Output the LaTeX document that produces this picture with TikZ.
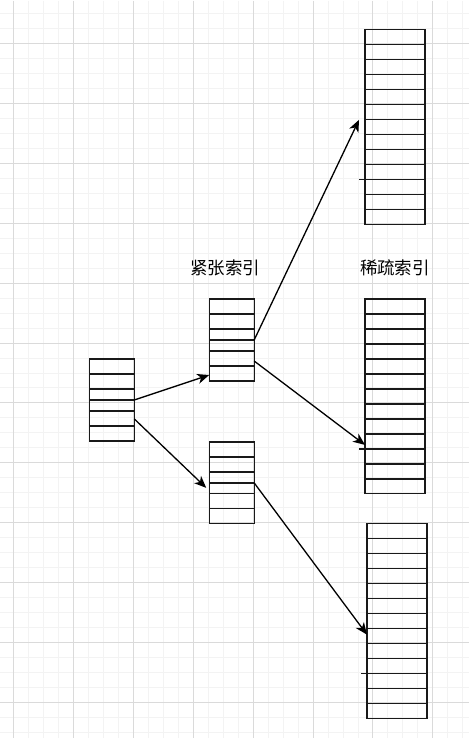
\documentclass[tikz,border=0pt]{standalone}
\usepackage{fontspec}
\newfontfamily\cjk{Noto Sans CJK SC}
\usetikzlibrary{arrows.meta}
\definecolor{gridminor}{RGB}{243,243,243}
\definecolor{gridmajor}{RGB}{218,218,218}

\begin{document}
\begin{tikzpicture}[x=1pt,y=-1pt,
    box/.style={draw=black!90,line width=1.3pt,outer sep=0pt,inner sep=0pt,anchor=north west},
    dense/.style={box,minimum width=45pt,minimum height=82pt},
    sparse/.style={box,minimum width=60pt,minimum height=195pt},
    row/.style={draw=black!90,line width=1.3pt},
    link/.style={line width=1.3pt,-{Stealth[length=12pt,width=10pt,inset=3.5pt]}},
    idxtext/.style={font=\cjk\fontsize{17.5}{20}\selectfont}]
    % 背景网格
    \fill[white] (0,0) rectangle (469,738);
    \foreach \x in {13,28,...,463} \draw[gridminor,line width=1pt] (\x,0) -- (\x,738);
    \foreach \y in {13,28,...,733} \draw[gridminor,line width=1pt] (0,\y) -- (469,\y);
    \foreach \x in {13,73,...,433} \draw[gridmajor,line width=1pt] (\x,0) -- (\x,738);
    \foreach \y in {43,103,...,703} \draw[gridmajor,line width=1pt] (0,\y) -- (469,\y);
    \useasboundingbox (0,0) rectangle (469,738);

    % 左侧的表
    \node[dense] (root) at (89,359) {};

    % 紧张索引
    \node[dense] (dense1) at (209,299) {};
    \node[dense] (dense2) at (209,442) {};
    \node[idxtext] (denselbl) at (225,268) {紧张索引};

    % 稀疏索引
    \node[sparse] (sparse1) at (365,29) {};
    \node[sparse] (sparse2) at (365,299) {};
    \node[sparse] (sparse3) at (367,524) {};
    \node[idxtext] (sparselbl) at (395,268) {稀疏索引};

    % 表中的行
    \foreach \n in {root,dense1,dense2}
        \foreach \d in {15,30,41,52,67}
            \draw[row] (\n.north west) ++(0,\d) -- ++(45,0);
    \foreach \n in {sparse1,sparse2,sparse3} {
        \foreach \d in {15,30,...,180}
            \draw[row] (\n.north west) ++(0,\d) -- ++(60,0);
        % 左边多出的短线
        \draw[row] ([xshift=-6pt]\n.north west) ++(0,150) -- ++(6,0);
    }

    % 箭头
    \draw[link] (root.east) -- ([yshift=-35pt]dense1.west);
    \draw[link] ([yshift=-19pt]root.east) -- ([xshift=-3pt,yshift=-5pt]dense2.west);
    \draw[link] (dense1.east) -- ([xshift=-6pt,yshift=7pt]sparse1.west);
    \draw[link] ([yshift=-21pt]dense1.east) -- ([yshift=-48.5pt]sparse2.west);
    \draw[link] (dense2.east) -- ([yshift=-13.5pt]sparse3.west);
\end{tikzpicture}
\end{document}
